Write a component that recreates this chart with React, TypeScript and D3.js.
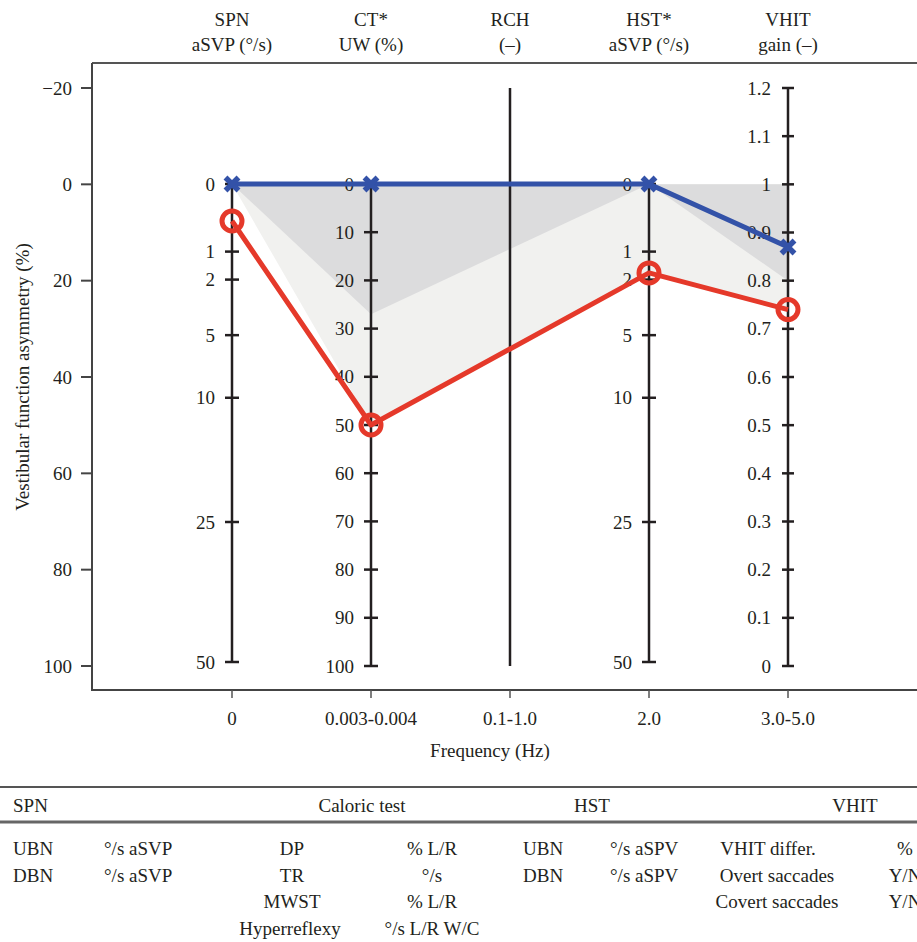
import React from "react";
import * as d3 from "d3";

const categories = ["0", "0.003-0.004", "0.1-1.0", "2.0", "3.0-5.0"];
const headerTop = ["SPN", "CT*", "RCH", "HST*", "VHIT"];
const headerBottom = ["aSVP (°/s)", "UW (%)", "(–)", "aSVP (°/s)", "gain (–)"];

const leftTicks = [-20, 0, 20, 40, 60, 80, 100];
const spnTicks = [0, 1, 2, 5, 10, 25, 50];
const ctTicks = [0, 10, 20, 30, 40, 50, 60, 70, 80, 90, 100];
const hstTicks = [0, 1, 2, 5, 10, 25, 50];
const vhitTicks = [0, 0.1, 0.2, 0.3, 0.4, 0.5, 0.6, 0.7, 0.8, 0.9, 1, 1.1, 1.2];

// values per column: SPN, CT, RCH (none), HST, VHIT
const blueValues = [0, 0, null, 0, 0.87];
const redValues = [0.3, 50, null, 1.73, 0.74];
const darkBand = [0, 27, null, 0, 0.8];
const lightBand = [0, 50, null, 1.73, 0.74];

const tableHeader = [
  { text: "SPN", x: 13, anchor: "start" },
  { text: "Caloric test", x: 362, anchor: "middle" },
  { text: "HST", x: 592, anchor: "middle" },
  { text: "VHIT", x: 855, anchor: "middle" },
];
const tableRows = [
  [
    { text: "UBN", x: 13, anchor: "start" },
    { text: "°/s aSVP", x: 104, anchor: "start" },
    { text: "DP", x: 292, anchor: "middle" },
    { text: "% L/R", x: 432, anchor: "middle" },
    { text: "UBN", x: 523, anchor: "start" },
    { text: "°/s aSPV", x: 610, anchor: "start" },
    { text: "VHIT differ.", x: 768, anchor: "middle" },
    { text: "%", x: 905, anchor: "middle" },
  ],
  [
    { text: "DBN", x: 13, anchor: "start" },
    { text: "°/s aSVP", x: 104, anchor: "start" },
    { text: "TR", x: 292, anchor: "middle" },
    { text: "°/s", x: 432, anchor: "middle" },
    { text: "DBN", x: 523, anchor: "start" },
    { text: "°/s aSPV", x: 610, anchor: "start" },
    { text: "Overt saccades", x: 777, anchor: "middle" },
    { text: "Y/N", x: 905, anchor: "middle" },
  ],
  [
    { text: "MWST", x: 292, anchor: "middle" },
    { text: "% L/R", x: 432, anchor: "middle" },
    { text: "Covert saccades", x: 777, anchor: "middle" },
    { text: "Y/N", x: 905, anchor: "middle" },
  ],
  [
    { text: "Hyperreflexy", x: 290, anchor: "middle" },
    { text: "°/s L/R W/C", x: 432, anchor: "middle" },
  ],
];

const W = 917;
const H = 942;
const FONT = "'Liberation Serif', 'Times New Roman', serif";
const INK = "#231f20";
const BLUE = "#3352a8";
const RED = "#e5392a";

export default function App() {
  const x = d3.scalePoint<string>().domain(categories).range([232, 788]);
  const yLeft = d3.scaleLinear().domain([-20, 100]).range([88, 666]);
  const ySpn = d3.scaleSqrt().domain([0, 50]).range([184, 662]);
  const yCt = d3.scaleLinear().domain([0, 100]).range([184, 666]);
  const yHst = d3.scaleSqrt().domain([0, 50]).range([184, 662]);
  const yVhit = d3.scaleLinear().domain([0, 1.2]).range([666, 88]);
  const colScales: any[] = [ySpn, yCt, null, yHst, yVhit];
  const colTicks: any[] = [spnTicks, ctTicks, null, hstTicks, vhitTicks];

  const pts = (vals: (number | null)[]) =>
    vals
      .map((v, i) => (v === null ? null : [x(categories[i]) as number, colScales[i](v)]))
      .filter((p) => p !== null) as [number, number][];

  const line = d3.line<[number, number]>().x((d) => d[0]).y((d) => d[1]);

  const topY = yLeft(0);
  const bandPath = (vals: (number | null)[]) => {
    const p = pts(vals);
    const poly: [number, number][] = [...p, [p[p.length - 1][0], topY], [p[0][0], topY]];
    return line(poly) + "Z";
  };

  const bluePts = pts(blueValues);
  const redPts = pts(redValues);

  const fmtVhit = (v: number) => (v === 0 || v === 1 ? String(v) : d3.format(".1f")(v));

  return (
    <svg
      width={W}
      height={H}
      style={{ position: "absolute", left: 0, top: 0, background: "#fff" }}
      fontFamily={FONT}
    >
      {/* headers */}
      {categories.map((c, i) => (
        <g key={"h" + i} fill={INK} fontSize={19} textAnchor="middle">
          <text x={x(c)} y={26}>{headerTop[i]}</text>
          <text x={x(c)} y={51}>{headerBottom[i]}</text>
        </g>
      ))}

      {/* frame */}
      <line x1={92} x2={W} y1={63} y2={63} stroke="#555" strokeWidth={2} />
      <line x1={92} x2={92} y1={63} y2={690} stroke="#444" strokeWidth={2} />
      <line x1={91} x2={W} y1={690} y2={690} stroke="#444" strokeWidth={2} />

      {/* left axis ticks */}
      {leftTicks.map((t) => (
        <g key={"l" + t}>
          <line x1={81} x2={92} y1={yLeft(t)} y2={yLeft(t)} stroke="#444" strokeWidth={2} />
          <text x={72} y={yLeft(t)} dy="0.35em" textAnchor="end" fontSize={19} fill={INK}>
            {t < 0 ? "−" + Math.abs(t) : t}
          </text>
        </g>
      ))}
      <text
        transform={`translate(29,${yLeft(40)}) rotate(-90)`}
        textAnchor="middle"
        fontSize={19}
        fill={INK}
      >
        Vestibular function asymmetry (%)
      </text>

      {/* bottom axis */}
      {categories.map((c) => (
        <g key={"b" + c}>
          <line x1={x(c)} x2={x(c)} y1={690} y2={698} stroke="#555" strokeWidth={1.5} />
          <text x={x(c)} y={725} textAnchor="middle" fontSize={19} fill={INK}>{c}</text>
        </g>
      ))}
      <text x={490} y={757} textAnchor="middle" fontSize={19} fill={INK}>Frequency (Hz)</text>

      {/* bands */}
      <path d={bandPath(lightBand)} fill="#f1f1ef" />
      <path d={bandPath(darkBand)} fill="#dcdcdd" />

      {/* column axes */}
      {categories.map((c, i) => {
        const cx = x(c) as number;
        const s = colScales[i];
        if (!s) {
          return (
            <line key={"a" + i} x1={cx} x2={cx} y1={yLeft(-20)} y2={yLeft(100)} stroke={INK} strokeWidth={2.5} />
          );
        }
        const ticks = colTicks[i] as number[];
        const r = s.range();
        const half = i === 4 ? 6 : 7;
        return (
          <g key={"a" + i}>
            <line x1={cx} x2={cx} y1={Math.min(r[0], r[1])} y2={Math.max(r[0], r[1])} stroke={INK} strokeWidth={2.5} />
            {ticks.map((t) => (
              <g key={t}>
                <line x1={cx - half} x2={cx + half} y1={s(t)} y2={s(t)} stroke={INK} strokeWidth={2.5} />
                <text x={cx - 17} y={s(t)} dy="0.35em" textAnchor="end" fontSize={19} fill={INK}>
                  {i === 4 ? fmtVhit(t) : t}
                </text>
              </g>
            ))}
          </g>
        );
      })}

      {/* series */}
      <path d={line(redPts) || ""} fill="none" stroke={RED} strokeWidth={5} strokeLinejoin="round" />
      <path d={line(bluePts) || ""} fill="none" stroke={BLUE} strokeWidth={5} strokeLinejoin="round" />
      {redPts.map((p, i) => (
        <circle key={"r" + i} cx={p[0]} cy={p[1]} r={10} fill="none" stroke={RED} strokeWidth={5} />
      ))}
      {bluePts.map((p, i) => (
        <path
          key={"x" + i}
          transform={`translate(${p[0]},${p[1]})`}
          d="M-6.5,-6.5L6.5,6.5M-6.5,6.5L6.5,-6.5"
          stroke={BLUE}
          strokeWidth={5.5}
        />
      ))}

      {/* table */}
      <line x1={0} x2={W} y1={787} y2={787} stroke="#555" strokeWidth={2} />
      <line x1={0} x2={W} y1={822} y2={822} stroke="#666" strokeWidth={3} />
      {tableHeader.map((h) => (
        <text key={h.text} x={h.x} y={812} textAnchor={h.anchor as any} fontSize={19} fill={INK}>
          {h.text}
        </text>
      ))}
      {tableRows.map((row, ri) =>
        row.map((cell, ci) => (
          <text
            key={ri + "-" + ci}
            x={cell.x}
            y={855 + ri * 26.7}
            textAnchor={cell.anchor as any}
            fontSize={19}
            fill={INK}
          >
            {cell.text}
          </text>
        ))
      )}
    </svg>
  );
}
